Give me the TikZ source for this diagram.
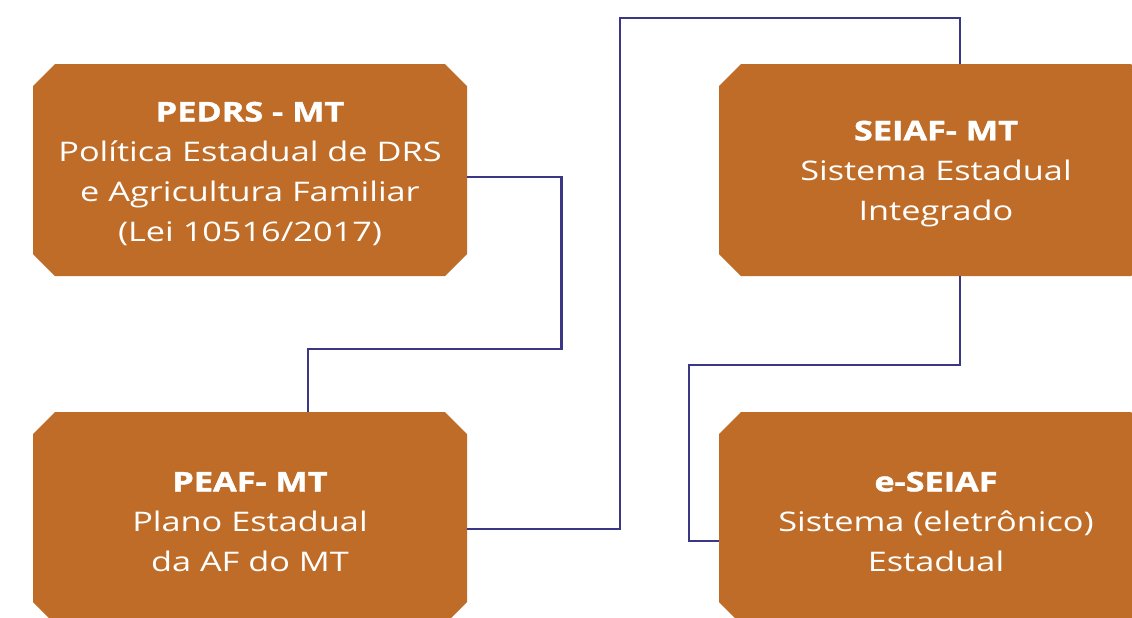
\documentclass[tikz,border=0pt]{standalone}
\usepackage{fontspec}
\setmainfont{Open Sans}[FakeStretch=1.27, BoldFeatures={FakeBold=1.5}]
\usetikzlibrary{shapes.misc}
\definecolor{boxfill}{HTML}{BE6C27}
\definecolor{linkcol}{HTML}{3A3785}
\newcommand{\boxtitle}[1]{\rule{0pt}{13.5pt}\textbf{#1}}
\tikzset{
  planbox/.style={chamfered rectangle, chamfered rectangle xsep=5.5pt, chamfered rectangle ysep=5.5pt,
    fill=boxfill, text=white, align=center, inner sep=0pt,
    minimum width=217pt, minimum height=106pt, font=\fontsize{13.5}{20}\selectfont},
  link/.style={linkcol, line width=1.2pt}
}
\begin{document}
\begin{tikzpicture}[x=0.5pt,y=-0.5pt]
	\clip (0,0) rectangle (1132,617);
	\fill[white] (0,0) rectangle (1132,617);
	% Boxes
	\node[planbox] (pedrs) at (250,170) {\boxtitle{PEDRS - MT}\\Política Estadual de DRS\\e Agricultura Familiar\\(Lei 10516/2017)};
	\node[planbox] (peaf) at (250,518) {\boxtitle{PEAF- MT}\\Plano Estadual\\da AF do MT};
	\node[planbox] (seiaf) at (936,170) {\boxtitle{SEIAF- MT}\\Sistema Estadual\\Integrado};
	\node[planbox] (eseiaf) at (936,518) {\boxtitle{e-SEIAF}\\Sistema (eletrônico)\\Estadual};
	% Links
	\coordinate (top) at (620,18);
	\coordinate (bend) at (689,365);
	\draw[link] ([yshift=-3.5pt]pedrs.east) -| ++(94,172) -| ([xshift=29pt]peaf.north);
	\draw[link] ([yshift=-5.5pt]peaf.east) -| (top) -| ([xshift=12pt]seiaf.north);
	\draw[link] ([xshift=12pt]seiaf.south) |- (bend) |- ([yshift=-11.5pt]eseiaf.west);
\end{tikzpicture}
\end{document}
